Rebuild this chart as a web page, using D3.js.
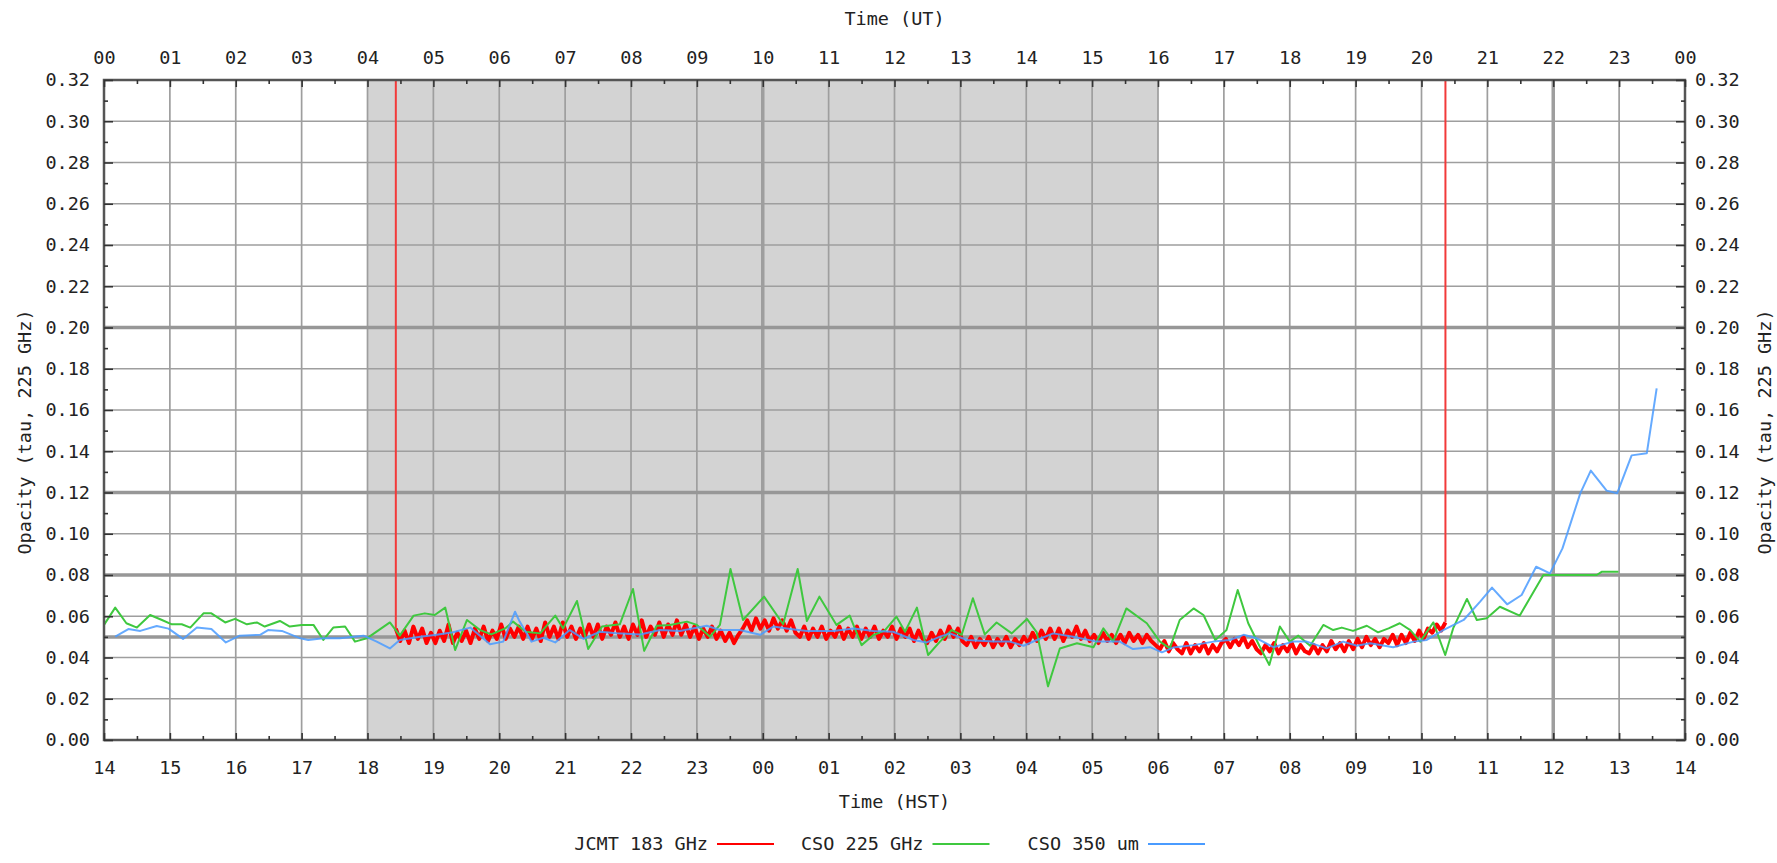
<!DOCTYPE html>
<html>
<head>
<meta charset="utf-8">
<script src="https://cdn.jsdelivr.net/npm/d3@7"></script>
<style>
  html, body { margin: 0; background: #fff; }
  svg { display: block; }
  text { font-family: "DejaVu Sans Mono", "Liberation Mono", monospace; fill: #222; }
</style>
</head>
<body>
<svg id="chart" width="1777" height="863"></svg>
<script>
// ---- data ---------------------------------------------------------------
// Hours on the UT axis (0..24) and their labels in UT and HST (UT-10)
const hours = d3.range(0, 25);
const utTickLabels  = ["00","01","02","03","04","05","06","07","08","09","10","11",
                       "12","13","14","15","16","17","18","19","20","21","22","23","00"];
const hstTickLabels = ["14","15","16","17","18","19","20","21","22","23","00","01",
                       "02","03","04","05","06","07","08","09","10","11","12","13","14"];
const tauTicks = [0, 0.02, 0.04, 0.06, 0.08, 0.10, 0.12, 0.14, 0.16,
                  0.18, 0.20, 0.22, 0.24, 0.26, 0.28, 0.30, 0.32];
const tauTickLabels = tauTicks.map(v => v.toFixed(2));

// Weather-band thresholds and local midnight / noon (UT hours)
const bandLines = [0.05, 0.08, 0.12, 0.20];
const midnightNoonUT = [10, 22];
// Night (18:00 - 06:00 HST) in UT hours
const nightUT = [4, 16];

// JCMT 183 GHz water-vapour radiometer: start (UT h), sample step (h), tau values
const jcmtStart = 4.43;
const jcmtStep = 1 / 15;
const jcmtValues = [
  .054,.048,.053,.047,.055,.049,.054,.047,.052,.047,.053,.048,.056,.047,.052,
  .048,.053,.047,.054,.049,.055,.048,.053,.049,.056,.049,.054,.050,.055,.049,
  .055,.049,.054,.048,.057,.050,.055,.049,.057,.050,.055,.049,.054,.050,.056,
  .050,.056,.049,.055,.051,.057,.050,.055,.049,.056,.051,.058,.050,.055,.051,
  .057,.050,.056,.051,.058,.051,.056,.050,.055,.049,.054,.050,.055,.049,.053,
  .048,.052,.047,.051,.054,.058,.053,.059,.054,.058,.053,.059,.054,.058,.053,
  .058,.052,.050,.055,.049,.054,.050,.055,.049,.053,.050,.055,.049,.054,.050,
  .055,.049,.054,.050,.055,.049,.053,.050,.055,.049,.054,.050,.054,.048,.053,
  .049,.047,.052,.048,.053,.049,.055,.050,.054,.048,.046,.050,.045,.049,.046,
  .050,.045,.049,.046,.050,.045,.049,.046,.050,.047,.052,.048,.053,.049,.054,
  .049,.054,.048,.053,.050,.055,.049,.053,.048,.051,.047,.052,.048,.051,.047,
  .051,.047,.052,.048,.051,.047,.051,.048,.046,.044,.048,.043,.047,.044,.042,
  .047,.042,.046,.043,.047,.042,.046,.043,.047,.049,.045,.049,.046,.050,.045,
  .048,.044,.042,.046,.043,.047,.042,.046,.043,.047,.042,.046,.043,.042,.046,
  .042,.046,.043,.048,.044,.047,.043,.048,.044,.049,.045,.050,.046,.049,.045,
  .049,.047,.051,.046,.051,.047,.052,.048,.053,.049,.054,.052,.056,.053,.057
];

// CSO 225 GHz tipper: [UT h, tau]
const cso225 = [
  [0.00,.0558],[0.17,.0642],[0.34,.0566],[0.50,.0545],[0.70,.0606],[0.88,.0582],
  [1.03,.0561],[1.18,.0561],[1.31,.0545],[1.51,.0614],[1.63,.0614],[1.84,.0570],
  [1.99,.0587],[2.17,.0561],[2.32,.0570],[2.44,.0550],[2.67,.0577],[2.82,.0550],
  [3.00,.0558],[3.18,.0558],[3.33,.0485],[3.48,.0545],[3.66,.0550],[3.81,.0477],
  [3.99,.0493],[4.34,.0570],[4.49,.0506],[4.70,.0603],[4.87,.0614],[5.02,.0606],
  [5.18,.0642],[5.33,.0436],[5.51,.0582],[5.71,.0533],[5.88,.0512],[6.09,.0541],
  [6.21,.0574],[6.40,.0525],[6.62,.0517],[6.85,.0603],[6.97,.0541],[7.18,.0674],
  [7.35,.0441],[7.56,.0550],[7.83,.0561],[8.03,.0732],[8.20,.0432],[8.39,.0554],
  [8.59,.0558],[8.85,.0574],[9.00,.0558],[9.20,.0501],[9.35,.0558],[9.51,.0829],
  [9.70,.0582],[10.02,.0695],[10.31,.0561],[10.53,.0829],[10.67,.0577],[10.86,.0695],
  [11.12,.0558],[11.32,.0603],[11.50,.0460],[11.68,.0509],[11.85,.0530],[12.03,.0598],
  [12.16,.0525],[12.34,.0642],[12.51,.0412],[12.69,.0477],[12.87,.0533],[13.02,.0510],
  [13.19,.0687],[13.37,.0512],[13.55,.0570],[13.78,.0517],[14.01,.0587],[14.16,.0522],
  [14.33,.0260],[14.51,.0444],[14.77,.0469],[15.02,.0450],[15.17,.0541],[15.32,.0477],
  [15.52,.0638],[15.83,.0566],[16.03,.0477],[16.18,.0444],[16.33,.0582],[16.54,.0638],
  [16.69,.0606],[16.87,.0485],[17.04,.0533],[17.21,.0727],[17.37,.0566],[17.55,.0450],
  [17.69,.0364],[17.85,.0550],[18.00,.0477],[18.13,.0506],[18.31,.0457],[18.51,.0558],
  [18.66,.0533],[18.79,.0545],[18.96,.0529],[19.17,.0554],[19.34,.0522],[19.50,.0541],
  [19.67,.0566],[19.83,.0533],[19.98,.0477],[20.18,.0570],[20.36,.0412],[20.48,.0541],
  [20.69,.0684],[20.84,.0582],[20.99,.0590],[21.19,.0646],[21.49,.0603],[21.85,.0800],
  [22.00,.0800],[22.66,.0800],[22.74,.0816],[22.99,.0816]
];

// CSO 350 um tipper (scaled to 225 GHz): [UT h, tau]
const cso350 = [
  [0.17,.0501],[0.37,.0538],[0.55,.0529],[0.80,.0553],[0.98,.0540],[1.20,.0490],
  [1.41,.0545],[1.63,.0538],[1.85,.0473],[2.06,.0506],[2.37,.0510],[2.49,.0533],
  [2.70,.0529],[2.98,.0493],[3.10,.0485],[3.33,.0493],[3.58,.0493],[3.94,.0506],
  [4.14,.0477],[4.34,.0444],[4.49,.0485],[4.80,.0501],[5.05,.0510],[5.30,.0522],
  [5.56,.0545],[5.86,.0464],[6.06,.0477],[6.24,.0622],[6.31,.0574],[6.49,.0477],
  [6.67,.0496],[6.85,.0473],[7.07,.0533],[7.28,.0490],[7.53,.0525],[7.78,.0517],
  [8.14,.0512],[8.44,.0533],[8.74,.0529],[9.15,.0554],[9.35,.0533],[9.65,.0533],
  [9.96,.0510],[10.16,.0550],[10.36,.0541],[10.67,.0529],[11.07,.0529],[11.38,.0541],
  [11.68,.0529],[11.98,.0525],[12.29,.0485],[12.49,.0473],[12.69,.0501],[12.84,.0517],
  [13.10,.0485],[13.50,.0477],[13.75,.0477],[13.96,.0457],[14.16,.0485],[14.41,.0517],
  [14.71,.0501],[15.07,.0477],[15.42,.0477],[15.62,.0441],[15.88,.0450],[16.06,.0425],
  [16.23,.0448],[16.54,.0460],[16.84,.0477],[17.09,.0485],[17.30,.0510],[17.50,.0493],
  [17.75,.0450],[18.05,.0477],[18.26,.0477],[18.56,.0444],[18.81,.0477],[19.02,.0457],
  [19.22,.0469],[19.57,.0450],[19.88,.0477],[20.08,.0485],[20.33,.0533],[20.64,.0582],
  [20.89,.0671],[21.07,.0739],[21.30,.0658],[21.52,.0703],[21.74,.0840],[21.95,.0808],
  [22.14,.0929],[22.41,.1196],[22.57,.1306],[22.81,.1209],[22.97,.1196],[23.19,.1380],
  [23.42,.1390],[23.57,.1705]
];

const seriesNames  = ["JCMT 183 GHz", "CSO 225 GHz", "CSO 350 um"];
const seriesColors = ["#ff0000", "#3fc83f", "#4a9bff"];

// ---- layout -------------------------------------------------------------
const W = 1777, H = 863;
const margin = { top: 80, right: 92, bottom: 123, left: 104 };
const FONT = 18.5;

const svg = d3.select("#chart");
const x = d3.scaleLinear().domain([0, 24]).range([margin.left, W - margin.right]);
const y = d3.scaleLinear().domain([0, 0.32]).range([H - margin.bottom, margin.top]);
const [x0, x1] = x.range();
const [y0, y1] = y.range();

svg.append("defs").append("clipPath").attr("id", "plot-clip")
  .append("rect").attr("x", x0).attr("y", y1).attr("width", x1 - x0).attr("height", y0 - y1);

// night shading
svg.append("rect")
  .attr("x", x(nightUT[0])).attr("y", y1)
  .attr("width", x(nightUT[1]) - x(nightUT[0])).attr("height", y0 - y1)
  .attr("fill", "#d3d3d3");

// grid
const grid = svg.append("g");
grid.selectAll("line.v").data(hours.slice(1, -1)).join("line")
  .attr("x1", d => x(d)).attr("x2", d => x(d)).attr("y1", y1).attr("y2", y0)
  .attr("stroke", "#9e9e9e")
  .attr("stroke-width", d => midnightNoonUT.includes(d) ? 3.5 : 1.7);
grid.selectAll("line.h").data(tauTicks.slice(1, -1)).join("line")
  .attr("x1", x0).attr("x2", x1).attr("y1", d => y(d)).attr("y2", d => y(d))
  .attr("stroke", "#9e9e9e").attr("stroke-width", 1.7);
grid.selectAll("line.b").data(bandLines).join("line")
  .attr("x1", x0).attr("x2", x1).attr("y1", d => y(d)).attr("y2", d => y(d))
  .attr("stroke", "#979797").attr("stroke-width", 3.5);

// series
const line = d3.line().x(d => x(d[0])).y(d => y(d[1]));
const plot = svg.append("g").attr("clip-path", "url(#plot-clip)");

const jcmtPoints = jcmtValues.map((v, i) => [jcmtStart + i * jcmtStep, v]);
const jcmtEnd = jcmtPoints[jcmtPoints.length - 1][0];
const tauTop = y.domain()[1];
// off-scale readings at either end of the JCMT run
plot.append("path")
  .attr("d", line([[jcmtStart, tauTop], [jcmtStart, jcmtValues[0]]]) +
             line([[jcmtEnd, jcmtValues[jcmtValues.length - 1]], [jcmtEnd, tauTop]]))
  .attr("fill", "none").attr("stroke", "#f23a3a").attr("stroke-width", 2);
plot.append("path").attr("d", line(jcmtPoints))
  .attr("fill", "none").attr("stroke", seriesColors[0]).attr("stroke-width", 4)
  .attr("stroke-linejoin", "round");
plot.append("path").attr("d", line(cso225))
  .attr("fill", "none").attr("stroke", seriesColors[1]).attr("stroke-width", 2)
  .attr("stroke-linejoin", "round");
plot.append("path").attr("d", line(cso350))
  .attr("fill", "none").attr("stroke", seriesColors[2]).attr("stroke-width", 2)
  .attr("stroke-opacity", 0.85).attr("stroke-linejoin", "round");

// frame
svg.append("rect").attr("x", x0).attr("y", y1).attr("width", x1 - x0).attr("height", y0 - y1)
  .attr("fill", "none").attr("stroke", "#555").attr("stroke-width", 2.5);

// axes
function styleAxis(g) {
  g.select(".domain").remove();
  g.attr("color", "#333");
  g.selectAll(".tick line").attr("stroke-width", 1.6);
  g.selectAll(".tick text").attr("font-size", FONT).attr("fill", "#222")
    .attr("font-family", "DejaVu Sans Mono, monospace");
}
const halfHours = d3.range(0.5, 24, 1);
const oddTau = tauTicks.slice(0, -1).map(v => v + 0.01);

svg.append("g").attr("transform", `translate(0,${y0})`)
  .call(d3.axisBottom(x).tickValues(hours).tickFormat(d => hstTickLabels[hours.indexOf(d)])
    .tickSizeInner(-7).tickSizeOuter(0).tickPadding(21)).call(styleAxis);
svg.append("g").attr("transform", `translate(0,${y1})`)
  .call(d3.axisTop(x).tickValues(hours).tickFormat(d => utTickLabels[hours.indexOf(d)])
    .tickSizeInner(-7).tickSizeOuter(0).tickPadding(16)).call(styleAxis);
svg.append("g").attr("transform", `translate(${x0},0)`)
  .call(d3.axisLeft(y).tickValues(tauTicks).tickFormat(d => tauTickLabels[tauTicks.indexOf(d)])
    .tickSizeInner(-9).tickSizeOuter(0).tickPadding(14)).call(styleAxis);
svg.append("g").attr("transform", `translate(${x1},0)`)
  .call(d3.axisRight(y).tickValues(tauTicks).tickFormat(d => tauTickLabels[tauTicks.indexOf(d)])
    .tickSizeInner(-9).tickSizeOuter(0).tickPadding(10)).call(styleAxis);

// minor ticks
svg.append("g").attr("transform", `translate(0,${y0})`)
  .call(d3.axisBottom(x).tickValues(halfHours).tickFormat("").tickSizeInner(-4).tickSizeOuter(0)).call(styleAxis);
svg.append("g").attr("transform", `translate(0,${y1})`)
  .call(d3.axisTop(x).tickValues(halfHours).tickFormat("").tickSizeInner(-4).tickSizeOuter(0)).call(styleAxis);
svg.append("g").attr("transform", `translate(${x0},0)`)
  .call(d3.axisLeft(y).tickValues(oddTau).tickFormat("").tickSizeInner(-4).tickSizeOuter(0)).call(styleAxis);
svg.append("g").attr("transform", `translate(${x1},0)`)
  .call(d3.axisRight(y).tickValues(oddTau).tickFormat("").tickSizeInner(-4).tickSizeOuter(0)).call(styleAxis);

// axis titles
const cx = (x0 + x1) / 2;
svg.append("text").attr("x", cx).attr("y", 19).attr("dy", "0.35em")
  .attr("text-anchor", "middle").attr("font-size", FONT).text("Time (UT)");
svg.append("text").attr("x", cx).attr("y", 802).attr("dy", "0.35em")
  .attr("text-anchor", "middle").attr("font-size", FONT).text("Time (HST)");
[25, 1765].forEach(tx => {
  svg.append("text").attr("transform", `translate(${tx},432) rotate(-90)`).attr("dy", "0.35em")
    .attr("text-anchor", "middle").attr("font-size", FONT).text("Opacity (tau, 225 GHz)");
});

// legend
const legendY = 844, legendX0 = 717, legendStep = 215.5, sampleLen = 57;
const leg = svg.append("g").selectAll("g").data(seriesNames).join("g")
  .attr("transform", (d, i) => `translate(${legendX0 + i * legendStep},${legendY})`);
leg.append("text").attr("x", -9).attr("dy", "0.35em").attr("text-anchor", "end")
  .attr("font-size", FONT).text(d => d);
leg.append("line").attr("x1", 0).attr("x2", sampleLen)
  .attr("stroke", (d, i) => seriesColors[i]).attr("stroke-width", 2);
</script>
</body>
</html>
